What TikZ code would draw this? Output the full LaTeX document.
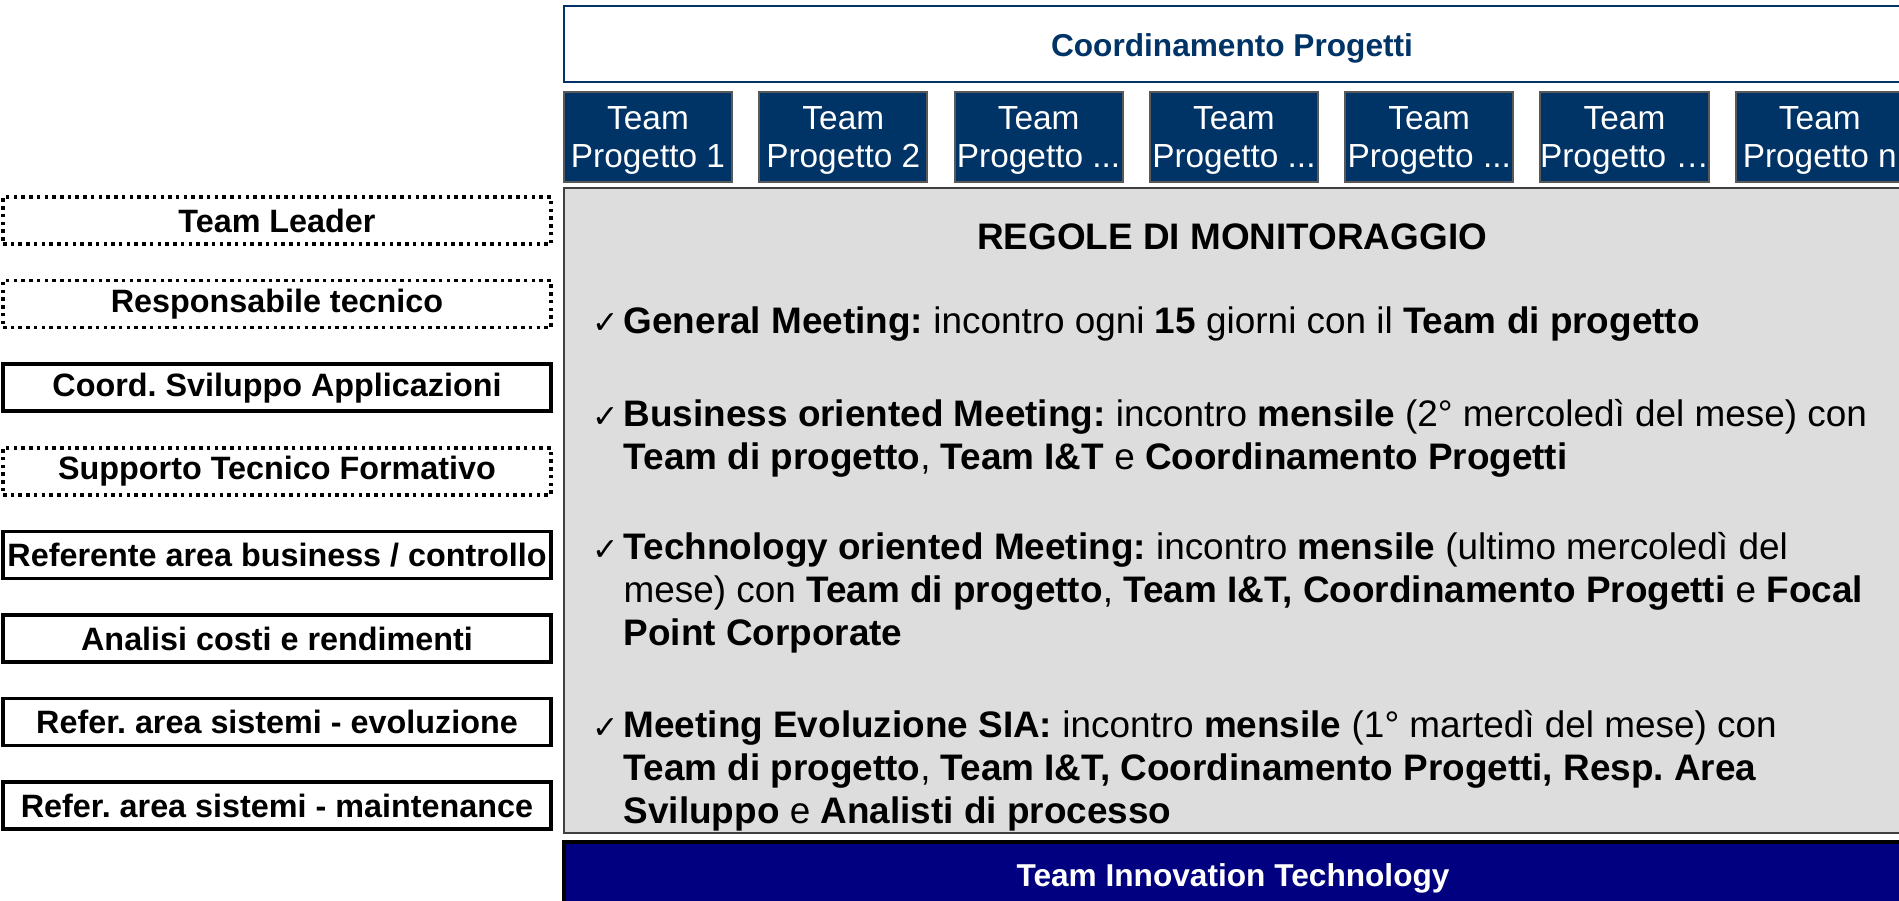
\documentclass[tikz,border=0pt]{standalone}
\usepackage{fontspec}
\setmainfont{Liberation Sans}
\newfontfamily\checkfont{DejaVu Sans}
\usepackage{tikz}
\usepackage{xcolor}
\definecolor{PrjNavy}{HTML}{003366}
\definecolor{PrjEdge}{HTML}{595959}
\definecolor{PrjPanel}{HTML}{DDDDDD}
\definecolor{PrjDeep}{HTML}{000080}
\definecolor{PrjBlack}{HTML}{000000}
\definecolor{PrjWhite}{HTML}{FFFFFF}
\frenchspacing
\tikzset{
    % Box styles - all sharp corners
    coordbox/.style={
        rectangle,
        draw=PrjNavy,
        fill=PrjWhite,
        line width=0.8pt,
        minimum width=13.36cm,
        minimum height=0.76cm,
        text height=0.72em,
        text depth=0pt,
        align=center,
        text=PrjNavy,
        font=\fontsize{9}{11}\selectfont\bfseries
    },
    teambox/.style={
        rectangle,
        draw=PrjEdge,
        fill=PrjNavy,
        line width=0.6pt,
        minimum width=1.68cm,
        minimum height=0.9cm,
        inner sep=0pt,
        text depth=0pt,
        align=center,
        text=PrjWhite,
        font=\fontsize{9.5}{11}\selectfont
    },
    rolebox/.style={
        rectangle,
        draw=PrjBlack,
        fill=PrjWhite,
        line width=1pt,
        minimum width=5.48cm,
        minimum height=0.47cm,
        inner sep=0pt,
        align=center,
        font=\fontsize{9.2}{11}\selectfont\bfseries
    },
    roledotted/.style={
        rolebox,
        line width=1pt,
        dash pattern=on 1pt off 1.2pt
    },
    panel/.style={
        rectangle,
        draw=PrjBlack!75,
        fill=PrjPanel,
        line width=0.7pt,
        minimum width=13.38cm,
        minimum height=6.45cm
    },
    innovbar/.style={
        rectangle,
        draw=PrjBlack,
        fill=PrjDeep,
        line width=1pt,
        minimum width=13.38cm,
        minimum height=0.63cm,
        text height=0.72em,
        text depth=0pt,
        text=PrjWhite,
        font=\fontsize{9}{11}\selectfont\bfseries
    },
    % Text styles inside the panel (base = last line)
    rule/.style={
        anchor=base west,
        inner sep=0pt,
        align=left,
        font=\fontsize{10.5}{12.1}\selectfont
    },
    tick/.style={
        anchor=base west,
        inner sep=0pt,
        font=\checkfont\fontsize{9}{9}\selectfont
    }
}

\begin{document}
\begin{tikzpicture}
    \useasboundingbox (0,0) rectangle (18.99,-9.00);

    % Top: coordination and project teams
    \node[coordbox] (coord) at (12.32,-0.44) {Coordinamento Progetti};

    \node[teambox] (team1) at (6.480,-1.37) {Team\\Progetto 1};
    \node[teambox] (team2) at (8.433,-1.37) {Team\\Progetto 2};
    \node[teambox] (team3) at (10.386,-1.37) {Team\\Progetto ...};
    \node[teambox] (team4) at (12.339,-1.37) {Team\\Progetto ...};
    \node[teambox] (team5) at (14.292,-1.37) {Team\\Progetto ...};
    \node[teambox] (team6) at (16.245,-1.37) {Team\\Progetto …};
    \node[teambox] (team7) at (18.198,-1.37) {Team\\Progetto n};

    % Roles column
    \node[roledotted] (leader) at (2.77,-2.205) {Team Leader};
    \node[roledotted] (tech) at (2.77,-3.041) {Responsabile tecnico};
    \node[rolebox] (dev) at (2.77,-3.877) {Coord. Sviluppo Applicazioni};
    \node[roledotted] (train) at (2.77,-4.713) {Supporto Tecnico Formativo};
    \node[rolebox] (biz) at (2.77,-5.549) {Referente area business / controllo};
    \node[rolebox] (cost) at (2.77,-6.385) {Analisi costi e rendimenti};
    \node[rolebox] (sysevo) at (2.77,-7.221) {Refer. area sistemi - evoluzione};
    \node[rolebox] (sysmnt) at (2.77,-8.057) {Refer. area sistemi - maintenance};

    % Monitoring rules
    \node[panel] (rules) at (12.33,-5.105) {};
    \node[anchor=base, inner sep=0pt, font=\fontsize{10.5}{12.8}\selectfont\bfseries] (title) at (12.32,-2.49) {REGOLE DI MONITORAGGIO};

    \node[tick] (tick1) at (5.92,-3.33) {✓};
    \node[rule] (general) at (6.23,-3.33) {\textbf{General Meeting:} incontro ogni \textbf{15} giorni con il \textbf{Team di progetto}};

    \node[tick] (tick2) at (5.92,-4.27) {✓};
    \node[rule] (business) at (6.23,-4.69) {\textbf{Business oriented Meeting:} incontro \textbf{mensile} (2° mercoledì del mese) con\\
        \textbf{Team di progetto}, \textbf{Team I\&T} e \textbf{Coordinamento Progetti}};

    \node[tick] (tick3) at (5.92,-5.60) {✓};
    \node[rule] (technology) at (6.23,-6.45) {\textbf{Technology oriented Meeting:} incontro \textbf{mensile} (ultimo mercoledì del\\
        mese) con \textbf{Team di progetto}, \textbf{Team I\&T, Coordinamento Progetti} e \textbf{Focal}\\
        \textbf{Point Corporate}};

    \node[tick] (tick4) at (5.92,-7.38) {✓};
    \node[rule] (evolution) at (6.23,-8.23) {\textbf{Meeting Evoluzione SIA:} incontro \textbf{mensile} (1° martedì del mese) con\\
        \textbf{Team di progetto}, \textbf{Team I\&T, Coordinamento Progetti, Resp. Area}\\
        \textbf{Sviluppo} e \textbf{Analisti di processo}};

    % Bottom bar
    \node[innovbar] (innov) at (12.33,-8.735) {Team Innovation Technology};
\end{tikzpicture}
\end{document}
